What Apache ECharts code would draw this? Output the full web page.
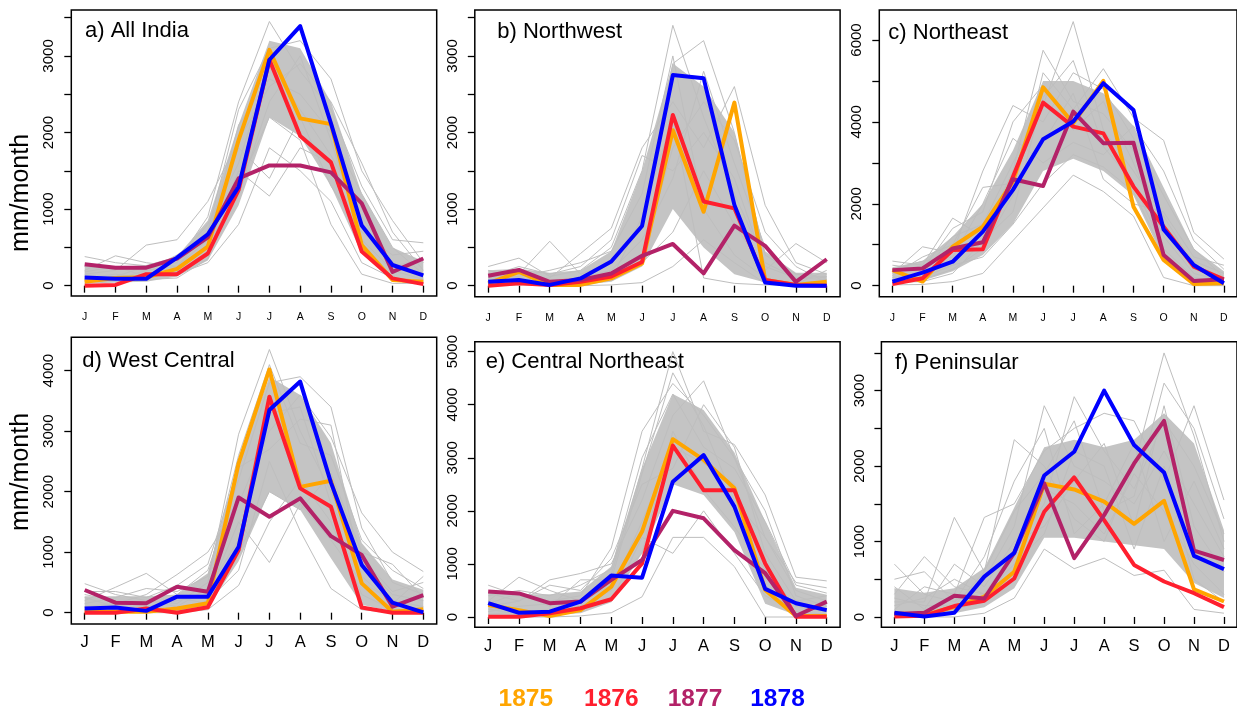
<!DOCTYPE html>
<html>
<head>
<meta charset="utf-8">
<script src="https://cdn.jsdelivr.net/npm/echarts@6/dist/echarts.min.js"></script>
<style>
html, body { margin: 0; padding: 0; background: #fff; }
#main { width: 1237px; height: 709px; }
</style>
</head>
<body>
<div id="main"></div>
<script>
var months = ['J', 'F', 'M', 'A', 'M', 'J', 'J', 'A', 'S', 'O', 'N', 'D'];
var years = ['1875', '1876', '1877', '1878'];
var yearColors = ['#FFA500', '#FF1F2E', '#B32268', '#0000FF'];

// a) All India
var a1875 = [50, 100, 110, 220, 510, 1900, 3080, 2185, 2110, 530, 75, 50];
var a1876 = [0, 10, 150, 150, 420, 1250, 2950, 1955, 1610, 445, 95, 20];
var a1877 = [280, 235, 235, 355, 630, 1400, 1570, 1570, 1480, 1075, 180, 355];
var a1878 = [105, 90, 90, 365, 670, 1290, 2950, 3390, 2120, 785, 270, 135];
var aCoreLow = [40, 40, 50, 120, 330, 1050, 2200, 1950, 1300, 420, 90, 40];
var aCoreHigh = [260, 240, 270, 380, 850, 2100, 3200, 3100, 2400, 1200, 500, 320];
var aGray = [
  [380, 300, 260, 300, 900, 2400, 3450, 2800, 2300, 1300, 600, 560],
  [200, 390, 300, 250, 700, 2300, 3100, 3200, 2700, 1500, 850, 300],
  [150, 200, 530, 600, 1100, 1900, 2600, 2900, 2400, 1600, 700, 200],
  [60, 100, 150, 200, 500, 1500, 1170, 1800, 1600, 900, 300, 100],
  [100, 150, 100, 150, 300, 800, 1800, 1500, 1100, 300, 100, 50],
  [250, 220, 200, 400, 700, 1800, 1400, 2200, 1300, 700, 400, 450],
  [30, 50, 80, 100, 350, 1300, 2200, 1900, 800, 150, 30, 30],
  [120, 80, 200, 250, 600, 2100, 2700, 2500, 2000, 1200, 500, 150],
  [180, 250, 120, 350, 800, 1600, 2900, 2300, 1700, 1000, 250, 350],
  [80, 120, 250, 180, 550, 1200, 2400, 3000, 1900, 600, 200, 80]
];

// b) Northwest
var b1875 = [30, 180, 10, 10, 95, 290, 2030, 965, 2390, 75, 10, 50];
var b1876 = [0, 30, 10, 50, 120, 310, 2230, 1100, 1010, 75, 10, 0];
var b1877 = [130, 205, 50, 75, 160, 390, 545, 160, 785, 520, 50, 345];
var b1878 = [50, 75, 10, 95, 315, 780, 2750, 2710, 1055, 40, 0, 0];
var bCoreLow = [20, 20, 10, 10, 50, 250, 1000, 500, 150, 40, 10, 10];
var bCoreHigh = [200, 220, 170, 200, 450, 1500, 2900, 2600, 2000, 450, 170, 170];
var bGray = [
  [250, 360, 120, 200, 500, 1500, 3400, 2200, 1200, 300, 100, 80],
  [100, 150, 580, 150, 300, 800, 2900, 3200, 2000, 400, 150, 100],
  [50, 80, 100, 420, 750, 1800, 2400, 1800, 2600, 1050, 300, 150],
  [20, 30, 20, 50, 100, 300, 700, 1500, 800, 200, 550, 300],
  [150, 200, 50, 100, 200, 600, 1400, 2800, 1600, 500, 50, 50],
  [0, 10, 0, 0, 10, 40, 250, 600, 300, 30, 0, 0],
  [80, 120, 200, 300, 450, 1200, 3000, 1000, 400, 100, 20, 200],
  [200, 100, 60, 80, 150, 400, 1800, 2400, 1900, 700, 250, 40],
  [30, 50, 30, 20, 80, 900, 2200, 100, 30, 10, 10, 10],
  [120, 250, 150, 250, 600, 1700, 1500, 2000, 1400, 250, 100, 120]
];

// c) Northeast
var c1875 = [380, 100, 950, 1440, 2540, 4845, 3965, 5000, 1930, 630, 40, 60];
var c1876 = [40, 180, 870, 890, 2660, 4470, 3885, 3720, 2420, 1440, 465, 155];
var c1877 = [380, 420, 910, 1060, 2600, 2435, 4250, 3480, 3490, 750, 115, 155];
var c1878 = [100, 320, 585, 1320, 2340, 3575, 4010, 4945, 4290, 1375, 505, 60];
var cCoreLow = [80, 120, 350, 750, 1500, 2800, 3100, 2800, 2200, 650, 80, 40];
var cCoreHigh = [450, 600, 1200, 2000, 3300, 5000, 5000, 4700, 3900, 2400, 900, 350];
var cGray = [
  [600, 500, 1650, 1200, 2800, 5750, 4500, 4200, 3300, 1500, 600, 300],
  [300, 950, 800, 2800, 4400, 4000, 5200, 4800, 3600, 2200, 900, 200],
  [200, 300, 1200, 1500, 3000, 4400, 6450, 3800, 2800, 1700, 500, 150],
  [100, 150, 400, 900, 2200, 5200, 4300, 5300, 4100, 3550, 1300, 650],
  [20, 30, 100, 300, 1100, 1900, 2700, 2300, 1700, 200, 0, 0],
  [400, 600, 700, 2000, 3600, 3000, 3500, 3200, 3900, 2800, 1100, 400],
  [150, 200, 500, 700, 1500, 2500, 3200, 2900, 2300, 800, 100, 50],
  [500, 400, 1400, 1800, 4000, 4900, 3800, 4500, 3000, 1200, 300, 100],
  [250, 700, 1000, 2400, 2500, 3500, 4700, 2600, 2000, 1800, 700, 500],
  [80, 100, 300, 1100, 1800, 4600, 5500, 3400, 2500, 900, 200, 80]
];

// d) West Central
var d1875 = [15, 15, 15, 70, 155, 2470, 4020, 2080, 2180, 485, 15, 55];
var d1876 = [0, 0, 70, 0, 90, 1035, 3570, 2055, 1750, 85, 0, 0];
var d1877 = [375, 165, 155, 430, 345, 1905, 1585, 1890, 1265, 955, 100, 290];
var d1878 = [70, 85, 30, 265, 265, 1090, 3350, 3820, 2150, 790, 165, 5];
var dCoreLow = [20, 20, 20, 20, 90, 850, 2000, 1700, 900, 130, 20, 20];
var dCoreHigh = [270, 270, 270, 300, 650, 2500, 3900, 3600, 2800, 1150, 550, 380];
var dGray = [
  [480, 300, 200, 150, 500, 2950, 4350, 3000, 2000, 800, 300, 200],
  [200, 420, 650, 300, 700, 2200, 3800, 3900, 3400, 1400, 500, 300],
  [100, 150, 300, 630, 1000, 1800, 3000, 3600, 2900, 1650, 1000, 680],
  [50, 80, 100, 200, 300, 1500, 830, 1800, 1200, 500, 200, 100],
  [300, 200, 100, 50, 200, 700, 2500, 1350, 400, 50, 0, 0],
  [0, 0, 0, 0, 50, 450, 1500, 2200, 1500, 300, 50, 50],
  [150, 250, 400, 350, 600, 2600, 4100, 2800, 2600, 1200, 700, 400],
  [250, 100, 200, 100, 400, 1200, 3300, 3400, 1800, 900, 350, 500],
  [80, 50, 50, 250, 150, 1000, 2000, 1700, 2300, 1000, 800, 250],
  [350, 350, 250, 450, 800, 2400, 2700, 3200, 3100, 600, 150, 600]
];

// e) Central Northeast
var e1875 = [225, 130, 20, 130, 570, 1610, 3350, 2960, 2425, 510, 20, 20];
var e1876 = [5, 5, 70, 165, 335, 1010, 3230, 2390, 2390, 1010, 5, 5];
var e1877 = [480, 445, 260, 290, 700, 1075, 2000, 1860, 1260, 825, 20, 290];
var e1878 = [260, 80, 100, 290, 780, 740, 2550, 3050, 2080, 530, 260, 130];
var eCoreLow = [40, 40, 40, 70, 280, 1200, 2500, 2300, 1600, 250, 40, 20];
var eCoreHigh = [470, 430, 430, 480, 950, 2800, 4200, 3900, 3100, 1800, 550, 420];
var eGray = [
  [600, 400, 300, 400, 1300, 3500, 4400, 3800, 3000, 1500, 500, 300],
  [300, 750, 500, 300, 800, 2800, 5000, 3500, 3250, 2300, 750, 680],
  [200, 300, 700, 820, 1000, 2200, 3800, 4450, 3000, 2000, 400, 200],
  [50, 100, 100, 150, 300, 1500, 1200, 2000, 1200, 400, 100, 50],
  [0, 0, 0, 20, 80, 380, 1500, 1500, 950, 0, 0, 0],
  [400, 500, 400, 600, 900, 3000, 4200, 3200, 2800, 1800, 600, 450],
  [100, 200, 250, 200, 500, 1800, 3200, 2900, 2500, 600, 50, 20],
  [450, 300, 600, 500, 1100, 2500, 2800, 4000, 3200, 1200, 300, 400],
  [150, 50, 150, 300, 600, 1200, 3500, 2400, 1700, 900, 200, 100],
  [250, 450, 200, 700, 700, 2700, 4600, 3600, 2200, 1500, 650, 550]
];

// f) Peninsular
var f1875 = [50, 25, 135, 270, 600, 1765, 1690, 1530, 1235, 1540, 365, 205];
var f1876 = [5, 15, 145, 215, 510, 1395, 1850, 1285, 690, 470, 315, 130];
var f1877 = [40, 55, 280, 245, 850, 1770, 780, 1350, 2035, 2600, 880, 755];
var f1878 = [55, 5, 55, 535, 850, 1875, 2190, 3000, 2280, 1915, 810, 635];
var fCoreLow = [20, 20, 50, 130, 380, 1050, 1050, 1000, 950, 900, 450, 250];
var fCoreHigh = [380, 320, 380, 650, 1450, 2250, 2350, 2250, 2350, 2700, 2300, 1150];
var fGray = [
  [700, 300, 200, 500, 1200, 2800, 2000, 1800, 1500, 2200, 1500, 800],
  [300, 800, 400, 300, 900, 1500, 2920, 2200, 1700, 2600, 2000, 1100],
  [200, 200, 1320, 600, 2350, 2000, 1300, 1000, 2000, 3500, 2400, 1000],
  [100, 400, 300, 1320, 1500, 2200, 2500, 2700, 2600, 1800, 2800, 1550],
  [0, 0, 0, 50, 250, 900, 640, 780, 550, 620, 100, 50],
  [400, 100, 700, 400, 1000, 1200, 1800, 2300, 1200, 2800, 1200, 600],
  [50, 50, 100, 200, 600, 1700, 1500, 1100, 1900, 1400, 700, 300],
  [500, 600, 200, 800, 1800, 2500, 1100, 1500, 2300, 1000, 1800, 900],
  [150, 250, 500, 300, 700, 1100, 2200, 2000, 900, 2000, 500, 200],
  [250, 150, 150, 600, 1400, 1900, 2600, 1400, 1600, 3100, 2500, 1300]
];

// y ticks / labels
var ticks500to3500 = [0, 500, 1000, 1500, 2000, 2500, 3000, 3500];
var labels1000to3000 = [0, 1000, 2000, 3000];
var ticksNE = [0, 1000, 2000, 3000, 4000, 5000, 6000];
var labelsNE = [0, 2000, 4000, 6000];
var ticksWC = [0, 1000, 2000, 3000, 4000];
var ticksCNE = [0, 1000, 2000, 3000, 4000, 5000];

var panels = [
  { title: 'a) All India', gray: aGray, low: aCoreLow, high: aCoreHigh, yrs: [a1875, a1876, a1877, a1878],
    ticks: ticks500to3500, labels: labels1000to3000, ymin: -135, ymax: 3600,
    grid: { left: 71.3, top: 10, width: 365.4, height: 286 }, tx: 85, ty: 30.6, xFont: 10.5, xMargin: 15.5 },
  { title: 'b) Northwest', gray: bGray, low: bCoreLow, high: bCoreHigh, yrs: [b1875, b1876, b1877, b1878],
    ticks: ticks500to3500, labels: labels1000to3000, ymin: -144, ymax: 3600,
    grid: { left: 474.8, top: 10, width: 365.3, height: 286.7 }, tx: 497.3, ty: 32.3, xFont: 10.5, xMargin: 15.5 },
  { title: 'c) Northeast', gray: cGray, low: cCoreLow, high: cCoreHigh, yrs: [c1875, c1876, c1877, c1878],
    ticks: ticksNE, labels: labelsNE, ymin: -269, ymax: 6733,
    grid: { left: 879.3, top: 10, width: 365.3, height: 286.7 }, tx: 888.3, ty: 33, xFont: 10.5, xMargin: 15.5 },
  { title: 'd) West Central', gray: dGray, low: dCoreLow, high: dCoreHigh, yrs: [d1875, d1876, d1877, d1878],
    ticks: ticksWC, labels: ticksWC, ymin: -187, ymax: 4552,
    grid: { left: 71.3, top: 337.3, width: 365.4, height: 286.7 }, tx: 82.3, ty: 360.6, xFont: 16.5, xMargin: 10 },
  { title: 'e) Central Northeast', gray: eGray, low: eCoreLow, high: eCoreHigh, yrs: [e1875, e1876, e1877, e1878],
    ticks: ticksCNE, labels: ticksCNE, ymin: -194, ymax: 5187,
    grid: { left: 474.8, top: 341.7, width: 365.3, height: 285.6 }, tx: 485.7, ty: 361.6, xFont: 16.5, xMargin: 10.5 },
  { title: 'f) Peninsular', gray: fGray, low: fCoreLow, high: fCoreHigh, yrs: [f1875, f1876, f1877, f1878],
    ticks: ticks500to3500, labels: labels1000to3000, ymin: -137, ymax: 3649,
    grid: { left: 881.4, top: 341.7, width: 365.3, height: 285.6 }, tx: 895, ty: 363, xFont: 16.5, xMargin: 10.5 }
];

var FONT = '"Liberation Sans", Arial, Helvetica, sans-serif';

function pts(vals) {
  return vals.map(function (v, i) { return [i + 1, v]; });
}

var grids = [], xAxes = [], yAxes = [], series = [], graphics = [];

panels.forEach(function (p, k) {
  grids.push({
    left: p.grid.left, top: p.grid.top, width: p.grid.width, height: p.grid.height,
    show: true, borderColor: '#000', borderWidth: 1.5, backgroundColor: 'transparent'
  });
  xAxes.push({
    type: 'value', gridIndex: k, min: 0.565, max: 12.435,
    axisLine: { show: false }, splitLine: { show: false },
    axisTick: { show: true, inside: false, length: 7, customValues: [1, 2, 3, 4, 5, 6, 7, 8, 9, 10, 11, 12],
      lineStyle: { color: '#000', width: 1.3 } },
    axisLabel: { customValues: [1, 2, 3, 4, 5, 6, 7, 8, 9, 10, 11, 12], margin: p.xMargin,
      fontFamily: FONT, fontSize: p.xFont, color: '#000',
      formatter: function (v) { return months[Math.round(v) - 1]; } }
  });
  yAxes.push({
    type: 'value', gridIndex: k, min: p.ymin, max: p.ymax,
    axisLine: { show: false }, splitLine: { show: false },
    axisTick: { show: true, inside: false, length: 7, customValues: p.ticks,
      lineStyle: { color: '#000', width: 1.3 } },
    axisLabel: { customValues: p.labels, rotate: 90, margin: 14.5,
      fontFamily: FONT, fontSize: 15, color: '#000',
      formatter: function (v) { return String(v); } }
  });

  // dense core of the gray ensemble
  series.push({
    type: 'custom', xAxisIndex: k, yAxisIndex: k, data: [0], silent: true,
    renderItem: (function (low, high) {
      return function (params, api) {
        var top = high.map(function (v, i) { return api.coord([i + 1, v]); });
        var bot = low.map(function (v, i) { return api.coord([i + 1, v]); }).reverse();
        return { type: 'polygon', shape: { points: top.concat(bot) }, style: { fill: '#C4C4C4' } };
      };
    })(p.low, p.high)
  });
  p.gray.forEach(function (g) {
    series.push({
      type: 'line', xAxisIndex: k, yAxisIndex: k, data: pts(g), symbol: 'none', silent: true,
      lineStyle: { color: '#BEBEBE', width: 1 }
    });
  });
  p.yrs.forEach(function (vals, j) {
    series.push({
      name: years[j], type: 'line', xAxisIndex: k, yAxisIndex: k, data: pts(vals), symbol: 'none',
      lineStyle: { color: yearColors[j], width: 4, join: 'round' }
    });
  });

  graphics.push({
    type: 'text', x: p.tx, y: p.ty,
    style: { text: p.title, font: '22px ' + FONT, fill: '#000', textAlign: 'left', textVerticalAlign: 'middle' }
  });
});

graphics.push({
  type: 'text', x: 21.5, y: 193, rotation: Math.PI / 2,
  style: { text: 'mm/month', font: '25px ' + FONT, fill: '#000', textAlign: 'center', textVerticalAlign: 'middle' }
});
graphics.push({
  type: 'text', x: 21.5, y: 472, rotation: Math.PI / 2,
  style: { text: 'mm/month', font: '25px ' + FONT, fill: '#000', textAlign: 'center', textVerticalAlign: 'middle' }
});

var legendX = [525.8, 611.3, 695, 777.5];
years.forEach(function (y, j) {
  graphics.push({
    type: 'text', x: legendX[j], y: 699.7,
    style: { text: y, font: 'bold 24.5px ' + FONT, fill: yearColors[j], textAlign: 'center', textVerticalAlign: 'middle' }
  });
});

var chart = echarts.init(document.getElementById('main'));
chart.setOption({
  animation: false,
  backgroundColor: '#fff',
  grid: grids,
  xAxis: xAxes,
  yAxis: yAxes,
  series: series,
  graphic: graphics
});
</script>
</body>
</html>
